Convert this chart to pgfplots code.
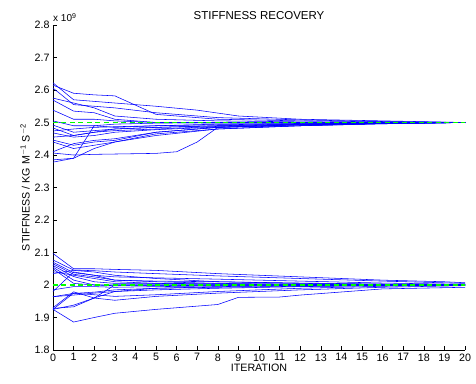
\documentclass[border=0pt]{standalone}
\usepackage{pgfplots}
\pgfplotsset{compat=1.18}
\usepackage{fontspec}
\setmainfont{Liberation Sans}
\pgfplotsset{run/.style={color={rgb,1:red,0;green,0;blue,1}, solid, line width=0.55pt}}
\begin{document}
\begin{tikzpicture}
\useasboundingbox (-53pt,-33pt) rectangle (423pt,350pt);
\begin{axis}[
  at={(0,0)}, anchor=south west,
  scale only axis, width=412pt, height=325pt,
  xmin=0, xmax=20, ymin=1.8, ymax=2.8,
  xtick={0,1,...,20}, ytick={1.8,1.9,...,2.8},
  axis x line*=bottom, axis y line*=left,
  axis line style={black, line width=0.6pt},
  tick style={black, line width=0.5pt},
  major tick length=4pt,
  tick align=inside,
  font=\fontsize{10.7}{12}\selectfont,
  /pgf/number format/assume math mode=true,
  /pgf/number format/fixed,
  yticklabel style={/pgf/number format/precision=1},
  title={STIFFNESS RECOVERY},
  title style={yshift=-4pt, font=\fontsize{11.5}{13}\selectfont},
  xlabel={ITERATION},
  xlabel style={yshift=4pt},
  ylabel={STIFFNESS / KG M\textsuperscript{$-$1} S\textsuperscript{$-$2}},
  ylabel style={yshift=-2pt},
  clip=false,
]
% upper group
\addplot[run] coordinates {(0,2.622)(1,2.57)(2,2.565)(3,2.56)(5,2.55)(7,2.538)(9,2.52)(12,2.51)(16,2.505)(20,2.50)};
\addplot[run] coordinates {(0,2.615)(1,2.59)(2,2.585)(3,2.582)(5,2.525)(8,2.51)(12,2.505)(16,2.502)(20,2.50)};
\addplot[run] coordinates {(0,2.606)(1,2.555)(2,2.55)(3,2.545)(5,2.53)(8,2.515)(12,2.508)(16,2.503)(20,2.50)};
\addplot[run] coordinates {(0,2.575)(1,2.56)(2,2.545)(3,2.52)(5,2.51)(8,2.505)(12,2.502)(16,2.50)(20,2.50)};
\addplot[run] coordinates {(0,2.569)(1,2.535)(2,2.53)(3,2.51)(5,2.50)(8,2.50)(12,2.50)(16,2.50)(20,2.50)};
\addplot[run] coordinates {(0,2.538)(1,2.51)(2,2.51)(3,2.505)(5,2.50)(8,2.498)(12,2.499)(16,2.50)(20,2.50)};
\addplot[run] coordinates {(0,2.505)(1,2.49)(2,2.49)(3,2.495)(5,2.498)(8,2.50)(12,2.50)(16,2.50)(20,2.50)};
\addplot[run] coordinates {(0,2.492)(1,2.47)(2,2.475)(3,2.48)(5,2.485)(8,2.49)(12,2.495)(16,2.498)(20,2.50)};
\addplot[run] coordinates {(0,2.483)(1,2.46)(2,2.47)(3,2.475)(5,2.48)(8,2.488)(12,2.494)(16,2.498)(20,2.50)};
\addplot[run] coordinates {(0,2.474)(1,2.48)(2,2.485)(3,2.487)(5,2.49)(8,2.493)(12,2.496)(16,2.499)(20,2.50)};
\addplot[run] coordinates {(0,2.468)(1,2.455)(2,2.46)(3,2.47)(5,2.478)(8,2.486)(12,2.493)(16,2.497)(20,2.50)};
\addplot[run] coordinates {(0,2.455)(1,2.46)(2,2.47)(3,2.48)(5,2.485)(8,2.49)(12,2.495)(16,2.498)(20,2.50)};
\addplot[run] coordinates {(0,2.446)(1,2.43)(2,2.44)(3,2.445)(5,2.47)(8,2.485)(12,2.493)(16,2.497)(20,2.50)};
\addplot[run] coordinates {(0,2.44)(1,2.42)(2,2.43)(3,2.44)(5,2.465)(8,2.48)(12,2.49)(16,2.496)(20,2.50)};
\addplot[run] coordinates {(0,2.406)(1,2.40)(2,2.402)(3,2.403)(5,2.405)(6,2.41)(7,2.44)(8,2.485)(12,2.49)(16,2.496)(20,2.50)};
\addplot[run] coordinates {(0,2.385)(1,2.39)(2,2.49)(3,2.485)(5,2.49)(8,2.495)(12,2.497)(16,2.499)(20,2.50)};
\addplot[run] coordinates {(0,2.378)(1,2.39)(2,2.42)(3,2.44)(5,2.46)(8,2.48)(12,2.49)(16,2.497)(20,2.50)};
\addplot[run] coordinates {(0,2.41)(1,2.435)(2,2.445)(3,2.45)(5,2.47)(8,2.485)(12,2.493)(16,2.497)(20,2.50)};
% lower group
\addplot[run] coordinates {(0,2.097)(1,2.05)(2,2.05)(3,2.048)(5,2.045)(8,2.035)(12,2.025)(16,2.015)(19,2.01)(20,2.007)};
\addplot[run] coordinates {(0,2.077)(1,2.046)(2,2.044)(3,2.04)(5,2.035)(8,2.028)(12,2.02)(16,2.012)(20,2.005)};
\addplot[run] coordinates {(0,2.07)(1,2.038)(2,2.03)(3,2.025)(5,2.022)(8,2.018)(12,2.012)(16,2.006)(20,2.002)};
\addplot[run] coordinates {(0,2.065)(1,2.033)(2,2.025)(3,2.015)(5,2.012)(8,2.01)(12,2.006)(16,2.003)(20,2.001)};
\addplot[run] coordinates {(0,2.06)(1,2.026)(2,2.01)(3,2.005)(5,2.005)(8,2.004)(12,2.003)(16,2.001)(20,2.00)};
\addplot[run] coordinates {(0,2.055)(1,2.015)(2,2.0)(3,2.0)(5,2.0)(8,2.0)(12,2.0)(16,2.0)(20,2.0)};
\addplot[run] coordinates {(0,2.05)(1,2.005)(2,2.0)(3,1.998)(5,1.998)(8,1.999)(12,2.0)(16,2.0)(20,2.0)};
\addplot[run] coordinates {(0,2.041)(1,2.03)(2,2.02)(3,2.01)(5,2.005)(8,2.002)(12,2.001)(16,2.0)(20,2.0)};
\addplot[run] coordinates {(0,2.035)(1,2.045)(2,2.04)(3,2.03)(5,2.02)(8,2.01)(12,2.005)(16,2.002)(20,2.0)};
\addplot[run] coordinates {(0,1.98)(1,2.04)(2,2.03)(3,2.015)(5,2.01)(8,2.005)(12,2.002)(16,2.0)(20,2.0)};
\addplot[run] coordinates {(0,1.985)(1,1.995)(2,1.995)(3,1.993)(5,1.995)(8,1.997)(12,1.999)(16,2.0)(20,2.0)};
\addplot[run] coordinates {(0,1.964)(1,1.969)(2,1.975)(3,1.98)(5,1.985)(8,1.99)(12,1.995)(16,1.998)(20,2.0)};
\addplot[run] coordinates {(0,1.964)(1,1.974)(2,1.978)(3,1.985)(5,1.99)(8,1.993)(12,1.996)(16,1.998)(20,2.0)};
\addplot[run] coordinates {(0,1.925)(1,1.938)(2,1.96)(3,1.98)(5,1.99)(8,1.995)(12,1.998)(16,1.999)(20,2.0)};
\addplot[run] coordinates {(0,1.925)(1,1.975)(2,1.97)(3,1.965)(5,1.97)(8,1.98)(12,1.99)(16,1.996)(20,2.0)};
\addplot[run] coordinates {(0,1.928)(1,1.933)(2,1.96)(3,2.0)(5,2.0)(8,2.0)(12,2.0)(16,2.0)(20,2.0)};
\addplot[run] coordinates {(0,1.93)(1,1.979)(2,1.96)(3,1.953)(5,1.965)(8,1.975)(12,1.985)(16,1.993)(20,1.998)};
\addplot[run] coordinates {(0,1.925)(1,1.886)(2,1.90)(3,1.913)(5,1.925)(8,1.94)(9,1.962)(11,1.963)(12,1.969)(16,1.988)(20,1.993)};
% true values
\addplot[color={rgb,1:red,0;green,1;blue,0}, line width=1.3pt, dash pattern=on 5pt off 3.5pt] coordinates {(0,2.5)(20,2.5)};
\addplot[color={rgb,1:red,0;green,1;blue,0}, line width=1.3pt, dash pattern=on 5pt off 3.5pt] coordinates {(0,2.0)(20,2.0)};
\node[anchor=south west, inner sep=0pt, font=\fontsize{10}{11}\selectfont] at (rel axis cs:0,1) [yshift=3pt] {x 10\textsuperscript{9}};
\end{axis}
\end{tikzpicture}
\end{document}
